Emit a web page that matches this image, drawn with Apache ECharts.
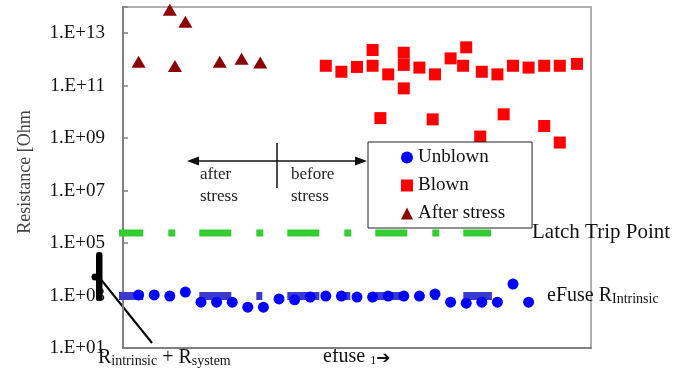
<!DOCTYPE html>
<html><head><meta charset="utf-8">
<script src="https://cdn.jsdelivr.net/npm/echarts@6/dist/echarts.min.js"></script>
<style>html,body{margin:0;padding:0;background:#fff}#c{width:687px;height:371px}</style>
</head><body><div id="c"></div>
<script>
// efuse index (x) and resistance in Ohm (y)
const unblownX = [1,2,3,4,5,6,7,8,9,10,11,12,13,14,15,16,17,18,19,20,21,22,23,24,25,26];
const unblownR = [1.05e3,1.05e3,9.5e2,1.35e3,5.6e2,5.6e2,5.6e2,3.6e2,3.6e2,7.4e2,6.9e2,8.7e2,9.5e2,9.5e2,8.7e2,8.7e2,9.5e2,9.5e2,9.5e2,1.15e3,5.6e2,5.1e2,5.6e2,5.6e2,2.75e3,5.6e2];
const blownX = [13,14,15,16,16,17,18,18,18,19,20,21,22,21.8,23,24,25,26,27,28,29.1,16.5,19.85,24.4,27,28,22.9];
const blownR = [5.75e11,3.4e11,5.2e11,2.3e12,5.75e11,2.7e11,1.8e12,6.2e11,7.9e10,4.9e11,2.7e11,1.1e12,2.9e12,5.75e11,3.4e11,2.7e11,5.75e11,4.9e11,5.75e11,5.75e11,6.8e11,5.8e9,5.2e9,8.1e9,2.9e9,6.8e8,1.15e9];
const stressX = [1,3,4,3.33,6.2,7.6,8.8];
const stressR = [8.1e11,7.8e13,2.75e13,5.6e11,8.1e11,1.07e12,7.6e11];
// reference lines
const systemLineX = [-0.75,23.65];
const systemLineR = [9.5e2,9.5e2];
const latchLineX = [-0.75,23.6];
const latchLineR = [2.4e5,2.4e5];
const yTicks = [1,3,5,7,9,11,13]; // exponents labelled

const F = "'Liberation Serif','Times New Roman',serif";
const lg = v => Math.log10(v);
const pts = (xs, rs) => xs.map((x,i)=>[x, lg(rs[i])]);

const chart = echarts.init(document.getElementById('c'));
chart.setOption({
  animation:false,
  grid:{left:123,right:96,top:7,bottom:23,show:true,borderColor:'#b0b0b0',borderWidth:2},
  xAxis:{type:'value',min:0,max:30,axisLine:{show:true,onZero:false,lineStyle:{color:'#808080',width:2}},
    axisTick:{show:false},axisLabel:{show:false},splitLine:{show:false}},
  yAxis:{type:'value',min:1,max:14,interval:2,
    axisLine:{show:true,lineStyle:{color:'#808080',width:2}},
    axisTick:{show:true,inside:true,length:5,lineStyle:{color:'#808080',width:1.5}},
    axisLabel:{margin:18,fontFamily:F,fontSize:19,color:'#111',
      formatter:v=> yTicks.indexOf(v)>=0 ? '1.E+'+String(v).padStart(2,'0') : ''},
    splitLine:{show:false}},
  legend:{orient:'vertical',left:368,top:142,padding:[6,27,5,33],itemGap:9,itemWidth:12,itemHeight:12,
    backgroundColor:'#fff',borderColor:'#222',borderWidth:1,borderRadius:0,
    textStyle:{fontFamily:F,fontSize:19,color:'#111'},
    data:[{name:'Unblown',icon:'circle'},{name:'Blown',icon:'rect'},{name:'After stress',icon:'triangle'}]},
  series:[
    {name:'sys',type:'line',data:pts(systemLineX,systemLineR),symbol:'none',clip:false,silent:true,z:1,
      lineStyle:{color:'#3a3acc',width:8,type:[32,25,6,25],cap:'butt'}},
    {name:'latch',type:'line',data:pts(latchLineX,latchLineR),symbol:'none',clip:false,silent:true,z:1,
      lineStyle:{color:'#33cc33',width:7,type:[32,25,7,24],cap:'butt'}},
    {name:'Unblown',type:'scatter',data:pts(unblownX,unblownR),symbol:'circle',symbolSize:11,clip:false,
      itemStyle:{color:'#0000ff',opacity:1}},
    {name:'Blown',type:'scatter',data:pts(blownX,blownR),symbol:'rect',symbolSize:12,clip:false,
      itemStyle:{color:'#ff0000',opacity:1}},
    {name:'After stress',type:'scatter',data:pts(stressX,stressR),symbol:'triangle',symbolSize:[14,12],clip:false,
      itemStyle:{color:'#8b0000',opacity:1}}
  ],
  graphic:[
    {type:'text',x:25,y:172,rotation:Math.PI/2,style:{text:'Resistance [Ohm',x:0,y:0,align:'center',verticalAlign:'middle',font:'18px '+F,fill:'#444'}},
    {type:'line',shape:{x1:194,y1:161,x2:360,y2:161},style:{stroke:'#111',lineWidth:1.5}},
    {type:'polygon',shape:{points:[[187,161],[199,156.5],[199,165.5]]},style:{fill:'#111'}},
    {type:'polygon',shape:{points:[[367,161],[355,156.5],[355,165.5]]},style:{fill:'#111'}},
    {type:'line',shape:{x1:277,y1:143,x2:277,y2:188},style:{stroke:'#111',lineWidth:1.5}},
    {type:'text',style:{text:'after',x:200,y:175,verticalAlign:'middle',font:'17px '+F,fill:'#222'}},
    {type:'text',style:{text:'stress',x:200,y:197,verticalAlign:'middle',font:'17px '+F,fill:'#222'}},
    {type:'text',style:{text:'before',x:291,y:175,verticalAlign:'middle',font:'17px '+F,fill:'#222'}},
    {type:'text',style:{text:'stress',x:291,y:197,verticalAlign:'middle',font:'17px '+F,fill:'#222'}},
    {type:'text',style:{text:'Latch Trip Point',x:532,y:232,verticalAlign:'middle',font:'21px '+F,fill:'#111'}},
    {type:'text',style:{text:'{a|eFuse R}{b|Intrinsic}',x:547,y:295,verticalAlign:'middle',
      rich:{a:{fontSize:20,fontFamily:F,fill:'#111',lineHeight:22,verticalAlign:'bottom'},
            b:{fontSize:14,fontFamily:F,fill:'#111',lineHeight:10,verticalAlign:'bottom'}}}},
    {type:'text',style:{text:'{a|R}{b|intrinsic}{a| + R}{b|system}',x:98,y:357,verticalAlign:'middle',
      rich:{a:{fontSize:20,fontFamily:F,fill:'#111',lineHeight:22,verticalAlign:'bottom'},
            b:{fontSize:14,fontFamily:F,fill:'#111',lineHeight:10,verticalAlign:'bottom'}}}},
    {type:'text',style:{text:'{a|efuse }{b|1}{c|➔}',x:323,y:356,verticalAlign:'middle',
      rich:{a:{fontSize:20,fontFamily:F,fill:'#111',lineHeight:22,verticalAlign:'bottom'},
            b:{fontSize:12,fontFamily:F,fill:'#111',lineHeight:10,verticalAlign:'bottom'},
            c:{fontSize:17,fontFamily:'DejaVu Sans',fontWeight:'bold',fill:'#111',lineHeight:22,verticalAlign:'bottom'}}}},
    {type:'rect',shape:{x:96,y:252,width:6.5,height:49,r:3},style:{fill:'#000'}},
    {type:'circle',shape:{cx:95,cy:277,r:3.5},style:{fill:'#000'}},
    {type:'line',shape:{x1:99,y1:277,x2:152,y2:343},style:{stroke:'#000',lineWidth:2}}
  ]
});
</script></body></html>
